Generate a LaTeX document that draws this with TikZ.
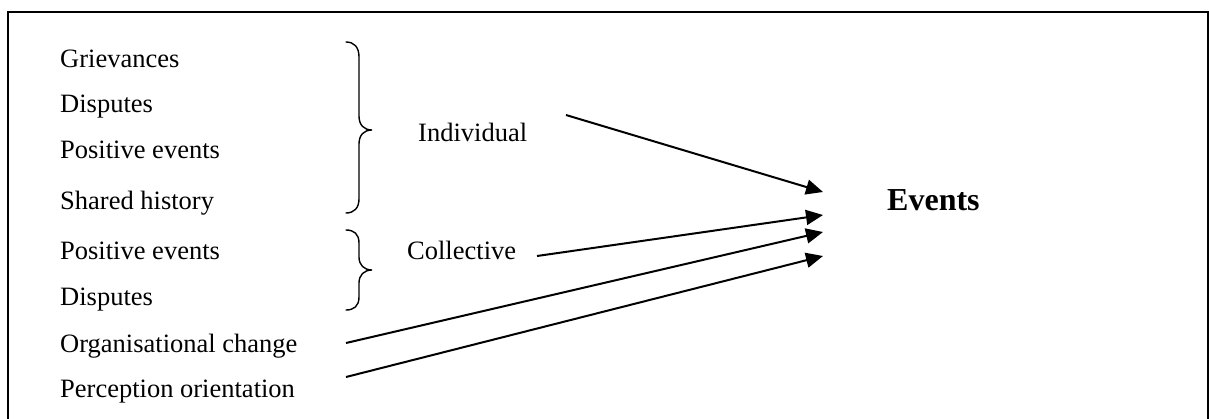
\documentclass[tikz,border=0pt]{standalone}
\usepackage{fontspec}
\setmainfont{Liberation Serif}
\usetikzlibrary{arrows.meta}
\tikzset{
  item/.style={anchor=base west, inner sep=0pt, font=\fontsize{26.5}{30}\selectfont},
  group/.style={anchor=base west, inner sep=0pt, font=\fontsize{26.5}{30}\selectfont},
  target/.style={anchor=base west, inner sep=0pt, font=\fontsize{32}{36}\selectfont\bfseries},
  curly/.style={line width=1.4pt, line cap=round},
  link/.style={line width=2pt, -{Triangle[length=17pt, width=15pt]}},
  frame/.style={line width=2.4pt}
}
\begin{document}
\begin{tikzpicture}[x=1pt, y=-1pt]
\useasboundingbox (0,0) rectangle (1209,418);
% outer frame
\draw[frame] (8,12) -- (1208,12) -- (1208,440) -- (8,440) -- cycle;

% list of sources
\node[item] (g1) at (60,67)  {Grievances};
\node[item] (g2) at (60,112) {Disputes};
\node[item] (g3) at (60,158) {Positive events};
\node[item] (g4) at (60,209) {Shared history};
\node[item] (c1) at (60,259) {Positive events};
\node[item] (c2) at (60,305) {Disputes};
\node[item] (oc) at (60,352) {Organisational change};
\node[item] (po) at (60,397) {Perception orientation};

% grouping braces
\draw[curly] (346,42) .. controls (354,42) and (359,47) .. (359,57)
  -- (359,116) .. controls (359,125) and (364,130) .. (372,130)
  .. controls (364,130) and (359,135) .. (359,144)
  -- (359,199) .. controls (359,208) and (354,213) .. (346,213);
\draw[curly] (346,230) .. controls (354,230) and (359,234) .. (359,243)
  -- (359,257) .. controls (359,265) and (364,270) .. (372,270)
  .. controls (364,270) and (359,275) .. (359,283)
  -- (359,297) .. controls (359,306) and (354,310) .. (346,310);

% group labels and target
\node[group] (ind) at (418,141) {Individual};
\node[group] (col) at (407,259) {Collective};
\node[target] (ev) at (887,210) {Events};

% arrow start and end points
\coordinate (indS) at (566,115);
\coordinate (colS) at (537,256);
\coordinate (ocS)  at (346,343);
\coordinate (poS)  at (346,377);
\coordinate (evA)  at (823,192);
\coordinate (evB)  at (823,215);
\coordinate (evC)  at (823,232);
\coordinate (evD)  at (823,256);

\draw[link] (indS) -- (evA);
\draw[link] (colS) -- (evB);
\draw[link] (ocS)  -- (evC);
\draw[link] (poS)  -- (evD);
\end{tikzpicture}
\end{document}
